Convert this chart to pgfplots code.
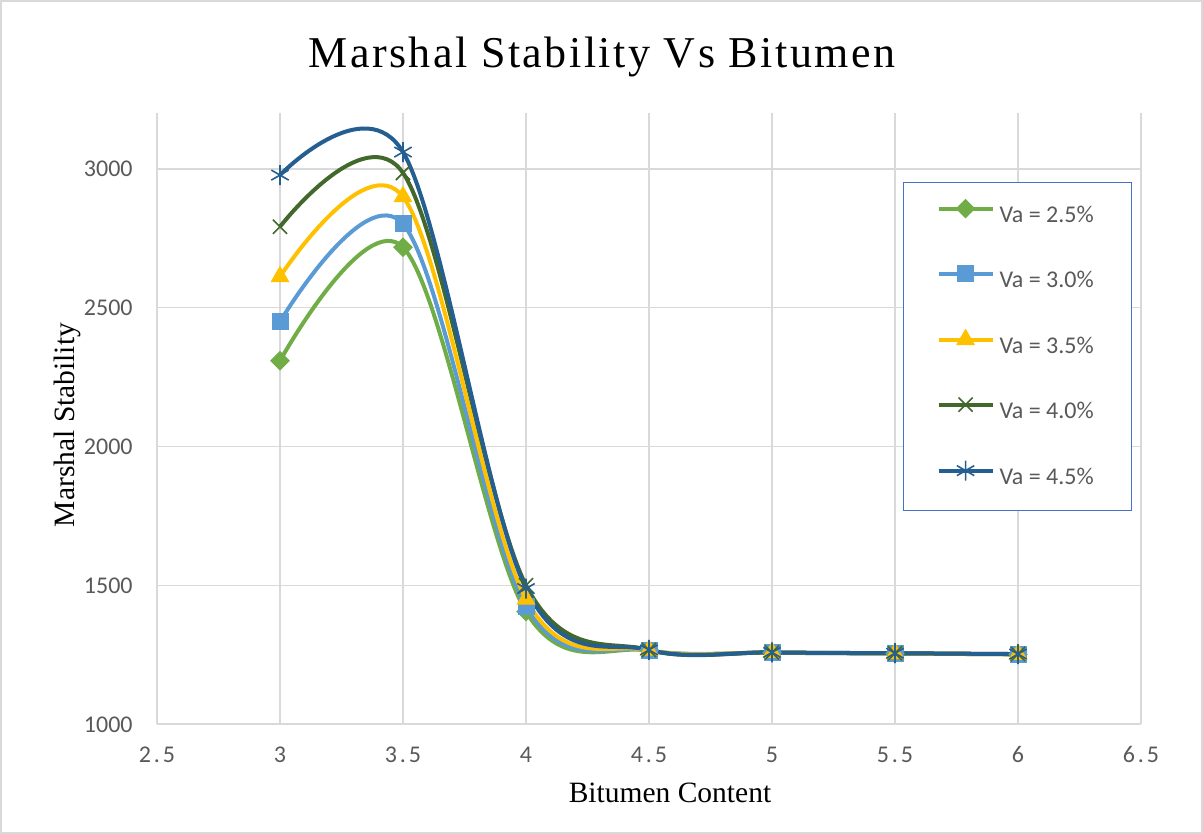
\documentclass[border=0pt]{standalone}
\usepackage{fontspec}
\setmainfont{Liberation Serif}
\newfontfamily\carlito{Carlito}
\usepackage{pgfplots}
\pgfplotsset{compat=1.18}
\definecolor{cA}{RGB}{112,173,71}
\definecolor{cB}{RGB}{91,155,213}
\definecolor{cC}{RGB}{255,192,0}
\definecolor{cD}{RGB}{67,104,43}
\definecolor{cE}{RGB}{37,94,145}
\definecolor{gridc}{RGB}{217,217,217}
\definecolor{txtc}{RGB}{89,89,89}
\definecolor{legc}{RGB}{68,114,196}
\begin{document}
\begin{tikzpicture}
\useasboundingbox (-78.5pt,-55pt) rectangle (523pt,362pt);
\draw[gridc, line width=0.7pt] (-78pt,-54.5pt) rectangle (522.5pt,361.5pt);
\node[font={\fontsize{22pt}{26pt}\selectfont\addfontfeature{LetterSpace=5.7}}, anchor=base] at (222.5pt,328pt) {Marshal Stability Vs Bitumen};
\node[font={\fontsize{14.75pt}{17pt}\selectfont}, rotate=90] at (-45pt,149.5pt) {Marshal Stability};
\node[font={\fontsize{14.75pt}{17pt}\selectfont}] at (256.5pt,-34.5pt) {Bitumen Content};
\begin{axis}[
  at={(0pt,0pt)}, anchor=south west, scale only axis,
  width=492pt, height=305.25pt,
  xmin=2.5, xmax=6.5, ymin=1000, ymax=3200,
  xtick={2.5,3,3.5,4,4.5,5,5.5,6,6.5},
  xticklabels={2.5,3,3.5,4,4.5,5,5.5,6,6.5},
  ytick={1000,1500,2000,2500,3000},
  yticklabels={1000,1500,2000,2500,3000},
  grid=major, major grid style={gridc, line width=0.7pt},
  axis line style={draw=none},
  major tick length=0pt,
  xticklabel style={font={\carlito\fontsize{12pt}{14pt}\selectfont\addfontfeature{LetterSpace=12}}, text=txtc, anchor=base, inner sep=0pt, yshift=-19pt},
  yticklabel style={font={\carlito\fontsize{12pt}{14pt}\selectfont}, text=txtc, anchor=base east, inner sep=0pt, xshift=-12pt, yshift=-4pt},
  clip=false,
  legend style={at={(0.758,0.888)}, anchor=north west, draw=legc, line width=0.7pt,
    inner xsep=16.5pt, inner ysep=8.5pt, row sep=16.5pt, column sep=2.5pt,
    font={\carlito\fontsize{12pt}{14pt}\selectfont}, text=txtc,
    nodes={inner sep=0pt, text height=11.5pt, text depth=4.5pt}},
  legend cell align=left,
  legend image code/.code={\draw[mark repeat=2, mark phase=2] plot coordinates {(0pt,3.5pt) (13.5pt,3.5pt) (27pt,3.5pt)};},
  every axis plot/.append style={line width=2pt, smooth, tension=0.56},
]
\addplot[cA, mark=square*, mark size=3.2pt, mark options={rotate=45, solid, line width=0.5pt}]
  coordinates {(3,2309)(3.5,2718)(4,1405)(4.5,1265)(5,1257)(5.5,1254)(6,1251)};
\addlegendentry{Va = 2.5\%\hspace*{2.5pt}}
\addplot[cB, mark=square*, mark size=4pt, mark options={solid, line width=0.5pt}]
  coordinates {(3,2450)(3.5,2802)(4,1425)(4.5,1265)(5,1257)(5.5,1254)(6,1251)};
\addlegendentry{Va = 3.0\%\hspace*{2.5pt}}
\addplot[cC, mark=triangle*, mark size=5pt, mark options={solid, line width=0.5pt}]
  coordinates {(3,2612)(3.5,2900)(4,1450)(4.5,1266)(5,1258)(5.5,1254)(6,1251)};
\addlegendentry{Va = 3.5\%\hspace*{2.5pt}}
\addplot[cD, mark=x, mark size=5pt, mark options={solid, line width=0.8pt}]
  coordinates {(3,2792)(3.5,2986)(4,1500)(4.5,1267)(5,1258)(5.5,1255)(6,1252)};
\addlegendentry{Va = 4.0\%\hspace*{2.5pt}}
\addplot[cE, mark=asterisk, mark size=5pt, mark options={solid, line width=0.8pt}]
  coordinates {(3,2978)(3.5,3061)(4,1488)(4.5,1267)(5,1258)(5.5,1255)(6,1252)};
\addlegendentry{Va = 4.5\%\hspace*{2.5pt}}
\end{axis}
\end{tikzpicture}
\end{document}
